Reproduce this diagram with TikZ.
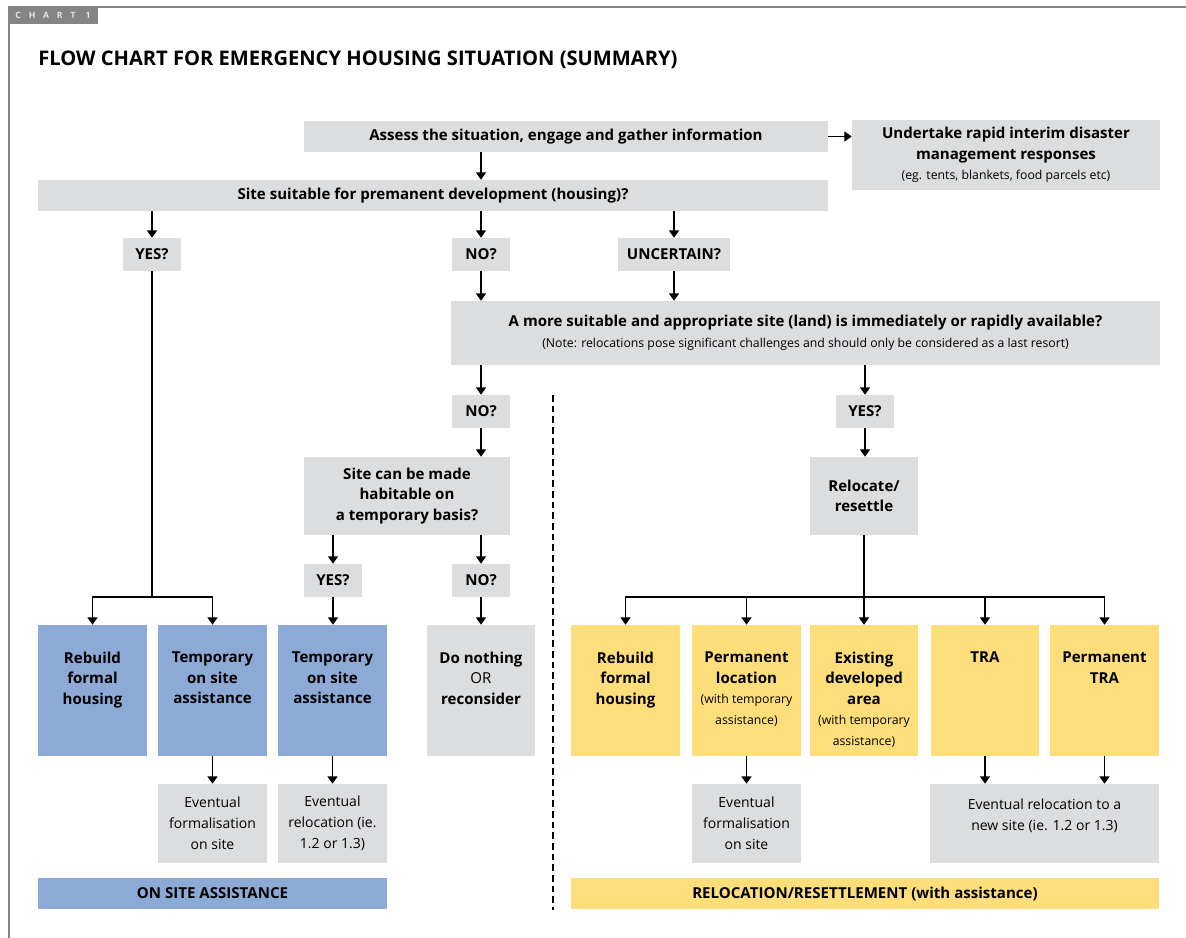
\documentclass[tikz,border=0pt]{standalone}
\usepackage{fontspec}
\setmainfont{Open Sans}
\usetikzlibrary{arrows.meta, positioning, calc}

\definecolor{boxgray}{HTML}{DCDDDF}
\definecolor{onsiteblue}{HTML}{8DAAD7}
\definecolor{relocyellow}{HTML}{FEDE7B}
\definecolor{framegray}{HTML}{858585}

\newcommand{\boxfont}{\fontsize{11.3}{15.4}\selectfont}
\newcommand{\plainfont}{\fontsize{10.5}{15.6}\selectfont}
\newcommand{\notefont}{\fontsize{9.2}{15.4}\selectfont}
% text hanging from the top edge of a tall box: height, width, gap, text
\newcommand{\toptext}[4]{\parbox[c][#1][t]{#2}{\centering\vspace*{#3}#4}}

\tikzset{
	boxsize/.style 2 args={
			minimum width=#1*0.75pt,
			minimum height=#2*0.75pt
		},
	flowbox/.style={
			rectangle,
			fill=boxgray,
			draw=none,
			inner sep=0pt,
			align=center,
			font=\boxfont\bfseries
		},
	notebox/.style={
			flowbox,
			font=\plainfont\mdseries
		},
	onsitebox/.style={
			flowbox,
			fill=onsiteblue
		},
	relocbox/.style={
			flowbox,
			fill=relocyellow
		},
	flowline/.style={
			line width=1pt
		},
	flowarrow/.style={
			flowline,
			-{Triangle[width=7.5pt,length=5.5pt]}
		}
}

\begin{document}
\begin{tikzpicture}[x=0.75pt, y=-0.75pt]
\useasboundingbox (0,0) rectangle (1186,938);

% frame, tab and heading
\draw[framegray, line width=1.5pt] (9,938) -- (9,7) -- (1186,7);
\node[fill=framegray, boxsize={90}{17}, inner sep=0pt, text=white!80!gray,
      font=\fontsize{6.5}{7}\selectfont\bfseries\addfontfeature{LetterSpace=90}] (tab) at (53,15.5) {CHART 1};
\node[anchor=west, inner sep=0pt, font=\fontsize{15.1}{17}\selectfont\bfseries] (title) at (38,60)
  {FLOW CHART FOR EMERGENCY HOUSING SITUATION (SUMMARY)};

% first assessment
\node[flowbox, boxsize={524}{31}] (assess) at (566,136.5) {Assess the situation, engage and gather information};
\node[flowbox, boxsize={308}{70}] (interim) at (1006,155)
  {Undertake rapid interim disaster\\management responses\\{\notefont\mdseries (eg. tents, blankets, food parcels etc)}};
\node[flowbox, boxsize={790}{31}] (site) at (433,195.5) {Site suitable for premanent development (housing)?};

\node[flowbox, boxsize={58}{33}] (yes1) at (152,254.5) {YES?};
\node[flowbox, boxsize={58}{33}] (no1) at (481,254.5) {NO?};
\node[flowbox, boxsize={112}{33}] (unsure) at (674,254.5) {UNCERTAIN?};

\node[flowbox, boxsize={709}{64}] (more) at (805.5,333)
  {A more suitable and appropriate site (land) is immediately or rapidly available?\\
   {\notefont\mdseries (Note: relocations pose significant challenges and should only be considered as a last resort)}};

\node[flowbox, boxsize={58}{33}] (no2) at (481,411.5) {NO?};
\node[flowbox, boxsize={58}{33}] (yes2) at (865,411.5) {YES?};

\node[flowbox, boxsize={206}{78}] (habit) at (407,496) {Site can be made\\habitable on\\a temporary basis?};
\node[flowbox, boxsize={108}{78}] (reloc) at (864,496) {Relocate/\\resettle};

\node[flowbox, boxsize={58}{33}] (yes3) at (333,580.5) {YES?};
\node[flowbox, boxsize={58}{33}] (no3) at (481,580.5) {NO?};

% options on site
\node[onsitebox, boxsize={109}{131}] (rebuildA) at (92.5,690.5) {\toptext{98pt}{80pt}{20pt}{Rebuild\\formal\\housing}};
\node[onsitebox, boxsize={109}{131}] (tempA) at (212.5,690.5) {\toptext{98pt}{80pt}{20pt}{Temporary\\on site\\assistance}};
\node[onsitebox, boxsize={109}{131}] (tempB) at (332.5,690.5) {\toptext{98pt}{80pt}{20pt}{Temporary\\on site\\assistance}};
\node[flowbox, boxsize={108}{131}] (nothing) at (481,690.5)
  {\toptext{98pt}{80pt}{20pt}{Do nothing\\{\mdseries OR}\\reconsider}};

% options elsewhere
\node[relocbox, boxsize={109}{131}] (rebuildB) at (625.5,690.5) {\toptext{98pt}{80pt}{20pt}{Rebuild\\formal\\housing}};
\node[relocbox, boxsize={109}{131}] (permloc) at (746.5,690.5)
  {\toptext{98pt}{80pt}{20pt}{Permanent\\location\\{\notefont\mdseries (with temporary\\assistance)}}};
\node[relocbox, boxsize={108}{131}] (existing) at (864,690.5)
  {\toptext{98pt}{80pt}{20pt}{Existing\\developed\\area\\{\notefont\mdseries (with temporary\\assistance)}}};
\node[relocbox, boxsize={108}{131}] (tra) at (985,690.5) {\toptext{98pt}{80pt}{20pt}{TRA}};
\node[relocbox, boxsize={109}{131}] (permtra) at (1104.5,690.5) {\toptext{98pt}{80pt}{20pt}{Permanent\\TRA}};

% later steps
\node[notebox, boxsize={109}{79}] (evA) at (212.5,823.5) {Eventual\\formalisation\\on site};
\node[notebox, boxsize={109}{79}] (evB) at (332.5,823.5) {Eventual\\relocation (ie.\\1.2 or 1.3)};
\node[notebox, boxsize={109}{79}] (evC) at (746.5,823.5) {Eventual\\formalisation\\on site};
\node[notebox, boxsize={229}{79}] (evD) at (1044.5,823.5)
  {\toptext{59pt}{168pt}{11pt}{Eventual relocation to a\\new site (ie. 1.2 or 1.3)}};

% banners
\node[onsitebox, boxsize={349}{31}] (onsite) at (212.5,893.5) {ON SITE ASSISTANCE};
\node[relocbox, boxsize={588}{31}] (resettle) at (865,893.5) {RELOCATION/RESETTLEMENT (with assistance)};

% divider
\draw[line width=1.1pt, dash pattern=on 5pt off 3pt] (553,395) -- (553,910);

% connectors
\draw[flowarrow] (assess.east) -- (assess.east -| interim.west);
\draw[flowarrow] (assess.south -| no1) -- (site.north -| no1);
\draw[flowarrow] (site.south -| yes1) -- (yes1);
\draw[flowarrow] (site.south -| no1) -- (no1);
\draw[flowarrow] (site.south -| unsure) -- (unsure);
\draw[flowarrow] (no1) -- (more.north -| no1);
\draw[flowarrow] (unsure) -- (more.north -| unsure);
\draw[flowarrow] (more.south -| no2) -- (no2);
\draw[flowarrow] (more.south -| yes2) -- (yes2);
\draw[flowarrow] (no2) -- (habit.north -| no2);
\draw[flowarrow] (yes2) -- (reloc.north -| yes2);
\draw[flowarrow] (habit.south -| yes3) -- (yes3);
\draw[flowarrow] (habit.south -| no3) -- (no3);
\draw[flowarrow] (yes3) -- (tempB.north -| yes3);
\draw[flowarrow] (no3) -- (nothing);

\coordinate (onsplit) at (152,597);
\draw[flowline] (yes1) -- (onsplit);
\draw[flowarrow] (onsplit) -| (rebuildA.north);
\draw[flowarrow] (onsplit) -| (tempA.north);

\coordinate (relsplit) at (864,597);
\draw[flowline] (reloc) -- (relsplit);
\draw[flowarrow] (relsplit) -| (rebuildB.north);
\draw[flowarrow] (relsplit) -| (permloc.north);
\draw[flowarrow] (relsplit) -- (existing.north);
\draw[flowarrow] (relsplit) -| (tra.north);
\draw[flowarrow] (relsplit) -| (permtra.north);

\draw[flowarrow] (tempA) -- (evA);
\draw[flowarrow] (tempB) -- (evB);
\draw[flowarrow] (permloc) -- (evC);
\draw[flowarrow] (tra.south) -- (tra.south |- evD.north);
\draw[flowarrow] (permtra.south) -- (permtra.south |- evD.north);

\end{tikzpicture}
\end{document}
